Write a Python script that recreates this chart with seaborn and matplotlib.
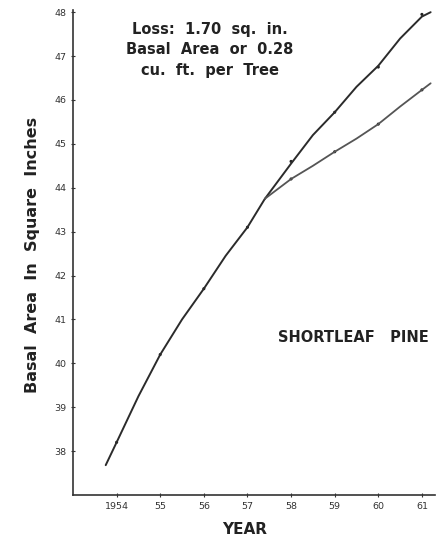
import matplotlib
matplotlib.use("Agg")
import matplotlib.pyplot as plt
import seaborn as sns
import pandas as pd

# Fitted curves
common_years = [1953.75, 1954.0, 1954.5, 1955.0, 1955.5, 1956.0, 1956.5, 1957.0, 1957.4]
common_vals = [37.68, 38.2, 39.25, 40.2, 41.0, 41.7, 42.45, 43.1, 43.75]

upper_years = [1957.4, 1958.0, 1958.5, 1959.0, 1959.5, 1960.0, 1960.5, 1961.0, 1961.2]
upper_vals = [43.75, 44.55, 45.2, 45.72, 46.3, 46.78, 47.4, 47.9, 48.0]

lower_years = [1957.4, 1958.0, 1958.5, 1959.0, 1959.5, 1960.0, 1960.5, 1961.0, 1961.2]
lower_vals = [43.75, 44.2, 44.5, 44.82, 45.12, 45.45, 45.85, 46.23, 46.38]

# Observed points
obs_years = [1954, 1955, 1956, 1957, 1958, 1959, 1960, 1961]
obs_upper = [38.2, 40.2, 41.7, 43.1, 44.6, 45.72, 46.75, 47.95]
obs_lower_years = [1958, 1959, 1960, 1961]
obs_lower = [44.2, 44.82, 45.45, 46.23]

x_ticks = [1954, 1955, 1956, 1957, 1958, 1959, 1960, 1961]
x_ticklabels = ["1954", "55", "56", "57", "58", "59", "60", "61"]
y_ticks = [38, 39, 40, 41, 42, 43, 44, 45, 46, 47, 48]

sns.set_style("white")
plt.rcParams['font.family'] = ['DejaVu Sans']

fig = plt.figure(figsize=(4.45, 5.39), dpi=100)
ax = fig.add_axes([73 / 445, 1 - 495 / 539, (435 - 73) / 445, (495 - 10) / 539])

df_common = pd.DataFrame({"year": common_years, "val": common_vals})
df_upper = pd.DataFrame({"year": upper_years, "val": upper_vals})
df_lower = pd.DataFrame({"year": lower_years, "val": lower_vals})

sns.lineplot(data=df_common, x="year", y="val", ax=ax, color="#2b2b2b", lw=1.4, sort=False)
sns.lineplot(data=df_upper, x="year", y="val", ax=ax, color="#2b2b2b", lw=1.4, sort=False)
sns.lineplot(data=df_lower, x="year", y="val", ax=ax, color="#555555", lw=1.3, sort=False)

sns.scatterplot(x=obs_years, y=obs_upper, ax=ax, color="#222222", s=5, edgecolor="none")
sns.scatterplot(x=obs_lower_years, y=obs_lower, ax=ax, color="#222222", s=5, edgecolor="none")

ax.set_xlim(1953.0, 1961.3)
ax.set_ylim(37.0, 48.05)
ax.set_xticks(x_ticks)
ax.set_xticklabels(x_ticklabels)
ax.set_yticks(y_ticks)
ax.set_yticklabels([str(v) for v in y_ticks])
ax.tick_params(axis="both", labelsize=6.8, colors="#333333", length=3.5, width=0.8,
               direction="inout", bottom=True, left=True)
ax.tick_params(axis="x", pad=3)
ax.tick_params(axis="y", pad=3)

for s in ["top", "right"]:
    ax.spines[s].set_visible(False)
for s in ["left", "bottom"]:
    ax.spines[s].set_color("#333333")
    ax.spines[s].set_linewidth(1.2)

ax.set_xlabel("")
ax.set_ylabel("")
fig.text(33 / 445, 1 - 255 / 539, "Basal  Area  In  Square  Inches", rotation=90,
         ha="center", va="center", fontsize=11.5, fontweight="bold", color="#222222")
fig.text(245 / 445, 1 - 530 / 539, "YEAR", ha="center", va="center",
         fontsize=11, fontweight="bold", color="#222222")

fig.text(210 / 445, 1 - 50 / 539, "Loss:  1.70  sq.  in.\nBasal  Area  or  0.28\ncu.  ft.  per  Tree",
         ha="center", va="center", fontsize=10.5, fontweight="bold", color="#222222",
         linespacing=1.45)
fig.text(353 / 445, 1 - 338 / 539, "SHORTLEAF   PINE", ha="center", va="center",
         fontsize=10.5, fontweight="bold", color="#222222")

fig.savefig("out.png", dpi=100)
